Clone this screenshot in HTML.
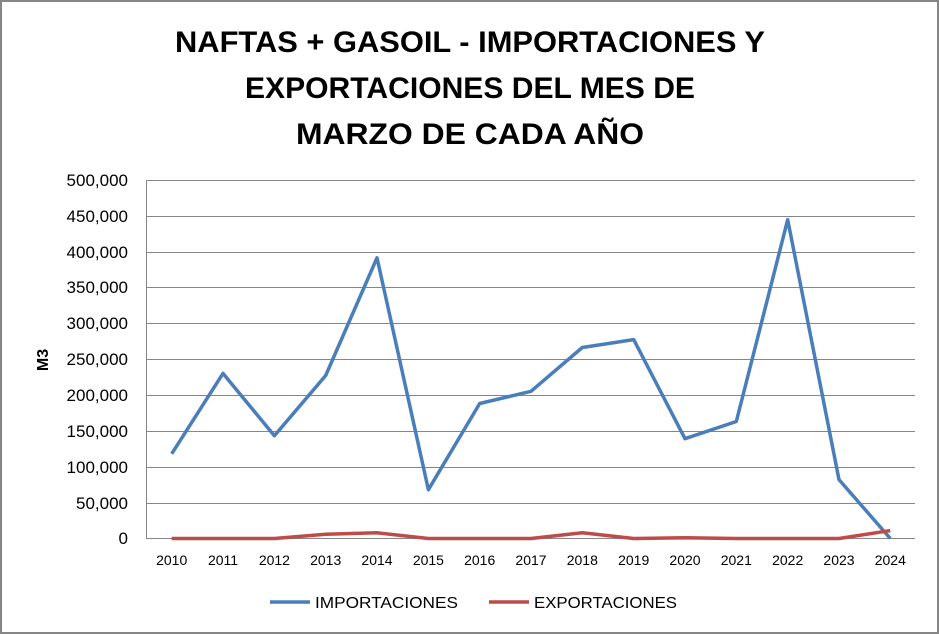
<!DOCTYPE html>
<html><head><meta charset="utf-8"><style>
html,body{margin:0;padding:0;background:#fff;}
svg{display:block;}
text{font-family:"Liberation Sans",sans-serif;}
</style></head><body>
<svg width="939" height="634" xmlns="http://www.w3.org/2000/svg">
<rect x="1" y="1" width="937" height="632" fill="#fff" stroke="#868686" stroke-width="2"/>
<g font-weight="bold" font-size="30" text-anchor="middle" fill="#000">
<text x="470" y="52" textLength="590" lengthAdjust="spacingAndGlyphs">NAFTAS + GASOIL - IMPORTACIONES Y</text>
<text x="470" y="98" textLength="450" lengthAdjust="spacingAndGlyphs">EXPORTACIONES DEL MES DE</text>
<text x="470" y="144" textLength="348" lengthAdjust="spacingAndGlyphs">MARZO DE CADA AÑO</text>
</g>
<g stroke="#868686" stroke-width="1">
<line x1="146" y1="180.5" x2="915" y2="180.5"/>
<line x1="146" y1="216.5" x2="915" y2="216.5"/>
<line x1="146" y1="252.5" x2="915" y2="252.5"/>
<line x1="146" y1="287.5" x2="915" y2="287.5"/>
<line x1="146" y1="323.5" x2="915" y2="323.5"/>
<line x1="146" y1="359.5" x2="915" y2="359.5"/>
<line x1="146" y1="395.5" x2="915" y2="395.5"/>
<line x1="146" y1="431.5" x2="915" y2="431.5"/>
<line x1="146" y1="467.5" x2="915" y2="467.5"/>
<line x1="146" y1="503.5" x2="915" y2="503.5"/>
<line x1="146" y1="538.5" x2="915" y2="538.5"/>
<line x1="146.5" y1="180" x2="146.5" y2="539"/>
</g>
<g font-size="17" text-anchor="end" fill="#000">
<text x="128" y="186">500,000</text>
<text x="128" y="222">450,000</text>
<text x="128" y="258">400,000</text>
<text x="128" y="293">350,000</text>
<text x="128" y="329">300,000</text>
<text x="128" y="365">250,000</text>
<text x="128" y="401">200,000</text>
<text x="128" y="437">150,000</text>
<text x="128" y="473">100,000</text>
<text x="128" y="509">50,000</text>
<text x="128" y="544">0</text>
</g>
<text x="48" y="360" font-size="16" font-weight="bold" text-anchor="middle" transform="rotate(-90 48 360)">M3</text>
<g font-size="14" text-anchor="middle" fill="#000">
<text x="171.7" y="565">2010</text><text x="223" y="565">2011</text><text x="274.4" y="565">2012</text>
<text x="325.7" y="565">2013</text><text x="377" y="565">2014</text><text x="428.4" y="565">2015</text>
<text x="479.7" y="565">2016</text><text x="531" y="565">2017</text><text x="582.3" y="565">2018</text>
<text x="633.7" y="565">2019</text><text x="685" y="565">2020</text><text x="736.3" y="565">2021</text>
<text x="787.7" y="565">2022</text><text x="839" y="565">2023</text><text x="890.3" y="565">2024</text>
</g>
<polyline fill="none" stroke="#4a7ebb" stroke-width="3.5" stroke-linejoin="round" points="171.7,453.8 223,373.4 274.4,435.8 325.7,375.5 377,257.8 428.4,489.7 479.7,403.5 531,391.3 582.3,347.5 633.7,339.6 685,438.7 736.3,421.5 787.7,219.7 839,479.6 890.3,538.5"/>
<polyline fill="none" stroke="#be4b48" stroke-width="3.5" stroke-linejoin="round" points="171.7,538.5 223,538.5 274.4,538.5 325.7,534.2 377,532.8 428.4,538.5 479.7,538.5 531,538.5 582.3,532.8 633.7,538.5 685,537.8 736.3,538.5 787.7,538.5 839,538.5 890.3,530.6"/>
<line x1="270" y1="602" x2="310" y2="602" stroke="#4a7ebb" stroke-width="3.5"/>
<text x="315" y="608" font-size="16" textLength="143" lengthAdjust="spacingAndGlyphs">IMPORTACIONES</text>
<line x1="489" y1="602" x2="529" y2="602" stroke="#be4b48" stroke-width="3.5"/>
<text x="534" y="608" font-size="16" textLength="143" lengthAdjust="spacingAndGlyphs">EXPORTACIONES</text>
</svg>
</body></html>
